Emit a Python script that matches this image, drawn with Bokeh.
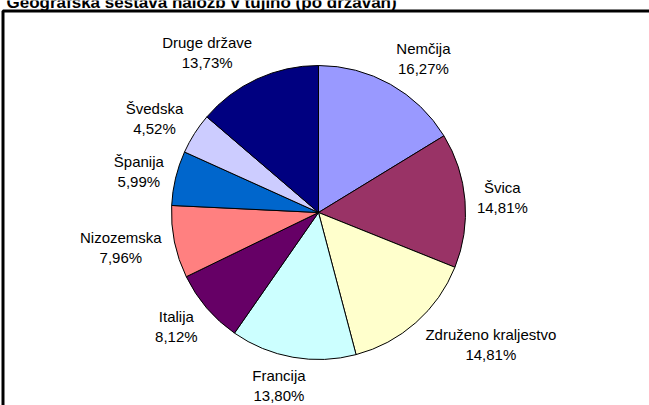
import math
from bokeh.plotting import figure
from bokeh.core.properties import value
from bokeh.embed import file_html
from bokeh.resources import INLINE

title = "Geografska sestava naložb v tujino (po državah)"
countries = ["Nemčija", "Švica", "Združeno kraljestvo", "Francija", "Italija",
             "Nizozemska", "Španija", "Švedska", "Druge države"]
shares = [16.27, 14.81, 14.81, 13.80, 8.12, 7.96, 5.99, 4.52, 13.73]
colors = ["#9999FF", "#993366", "#FFFFCC", "#CCFFFF", "#660066",
          "#FF8080", "#0066CC", "#CCCCFF", "#000080"]

W, H = 649, 405
cx, cy = 318, H - 212
R = 147
FS = 15
FONT = value("Liberation Sans")

p = figure(width=W, height=H, x_range=(0, W), y_range=(0, H),
           output_backend="svg", toolbar_location=None, min_border=0)
p.axis.visible = False
p.grid.visible = False
p.outline_line_color = None
p.background_fill_color = "white"
p.border_fill_color = "white"

total = sum(shares)
starts, ends, mids = [], [], []
cum = 0.0
for s in shares:
    a0 = math.pi / 2 - 2 * math.pi * cum / total
    cum += s
    a1 = math.pi / 2 - 2 * math.pi * cum / total
    starts.append(a0)
    ends.append(a1)
    mids.append((a0 + a1) / 2)

p.wedge(x=cx, y=cy, radius=R, start_angle=starts, end_angle=ends,
        direction="clock", fill_color=colors, line_color="black", line_width=1)

pcts = [f"{s:.2f}".replace(".", ",") + "%" for s in shares]

def clamp(v):
    return max(-1.0, min(1.0, v))

def text_width(t):
    em = 0.0
    for ch in t:
        if ch in "ijlI":
            em += 0.23
        elif ch in "rtf, ":
            em += 0.3
        elif ch == "m":
            em += 0.83
        elif ch == "%":
            em += 0.89
        elif ch.isupper():
            em += 0.68
        else:
            em += 0.55
    return em * FS

nx, ny, px_, py_ = [], [], [], []
for name, pct, m in zip(countries, pcts, mids):
    c, s = math.cos(m), math.sin(m)
    w = max(text_width(name), text_width(pct))
    h = 38
    lx = cx + (R + 12) * c + w / 2 * clamp(2.5 * c)
    ly = cy + (R + 10 + h / 2) * s
    nx.append(lx); ny.append(ly + 10)
    px_.append(lx); py_.append(ly - 10)

p.text(x=nx, y=ny, text=countries, text_align="center", text_baseline="middle",
       text_font=FONT, text_font_size=f"{FS}px", text_color="black")
p.text(x=px_, y=py_, text=pcts, text_align="center", text_baseline="middle",
       text_font=FONT, text_font_size=f"{FS}px", text_color="black")

# frame
p.quad(left=2.5, right=W + 60, top=H - 10.5, bottom=-60,
       fill_color=None, line_color="black", line_width=3)

# title (partly cut at the top, as in the reference)
p.text(x=[6], y=[H - 2], text=[title], text_align="left", text_baseline="alphabetic",
       text_font=FONT, text_font_style="bold", text_font_size="17px", text_color="black")

open("out.html", "w").write(file_html(p, INLINE))
